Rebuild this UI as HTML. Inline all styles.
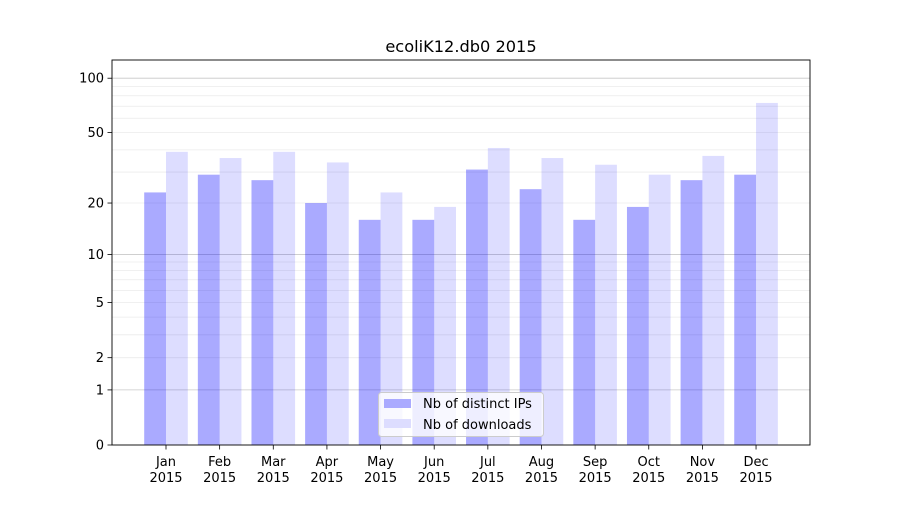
<!DOCTYPE html>
<html><head><meta charset="utf-8"><style>body{margin:0;background:#fff}</style></head>
<body>
<svg id="s" width="900" height="500" xmlns="http://www.w3.org/2000/svg" font-family="DejaVu Sans, Liberation Sans, sans-serif"></svg>
<script>
const s=document.getElementById('s');let h='';
const Y=v=>445-183*Math.log10(1+v);
h+='<rect width="900" height="500" fill="#fff"/>';
[2,3,4,5,6,7,8,9,20,30,40,50,60,70,80,90].forEach(v=>{h+=`<line x1="112" x2="810" y1="${Y(v)}" y2="${Y(v)}" stroke="#ebebeb" stroke-width="0.8"/>`});
[1,10,100].forEach(v=>{h+=`<line x1="112" x2="810" y1="${Y(v)}" y2="${Y(v)}" stroke="#c8c8c8" stroke-width="0.8"/>`});
const ip=[23,29,27,20,16,16,31,24,16,19,27,29],dl=[39,36,39,34,23,19,41,36,33,29,37,73];
const m=['Jan','Feb','Mar','Apr','May','Jun','Jul','Aug','Sep','Oct','Nov','Dec'];
for(let i=0;i<12;i++){const c=166+i*53.64;
h+=`<rect x="${c-21.8}" y="${Y(ip[i])}" width="21.8" height="${445-Y(ip[i])}" fill="#0000ff" fill-opacity="0.333"/>`;
h+=`<rect x="${c}" y="${Y(dl[i])}" width="21.8" height="${445-Y(dl[i])}" fill="#0000ff" fill-opacity="0.135"/>`;
h+=`<line x1="${c}" x2="${c}" y1="445" y2="449.5" stroke="#000" stroke-width="0.8"/>`;
h+=`<text x="${c}" y="466" font-size="13" text-anchor="middle">${m[i]}</text><text x="${c}" y="482" font-size="13" text-anchor="middle">2015</text>`;}
[0,1,2,5,10,20,50,100].forEach(v=>{const y=Y(v);h+=`<line x1="107.5" x2="112" y1="${y}" y2="${y}" stroke="#000" stroke-width="0.8"/><text x="104" y="${y+4.5}" font-size="13" text-anchor="end">${v}</text>`});
h+='<rect x="112" y="60" width="698" height="385" fill="none" stroke="#000" stroke-width="0.9"/>';
h+='<text x="461" y="52" font-size="16.2" text-anchor="middle">ecoliK12.db0 2015</text>';
h+='<rect x="378.5" y="392.5" width="165" height="44" rx="3" fill="#fff" fill-opacity="0.8" stroke="#ccc"/>';
h+='<rect x="384" y="399" width="27" height="9" fill="#aaaaff"/><text x="423" y="408" font-size="13">Nb of distinct IPs</text>';
h+='<rect x="384" y="419" width="27" height="9" fill="#ddddff"/><text x="423" y="429" font-size="13">Nb of downloads</text>';
s.innerHTML=h;
</script>
</body></html>
